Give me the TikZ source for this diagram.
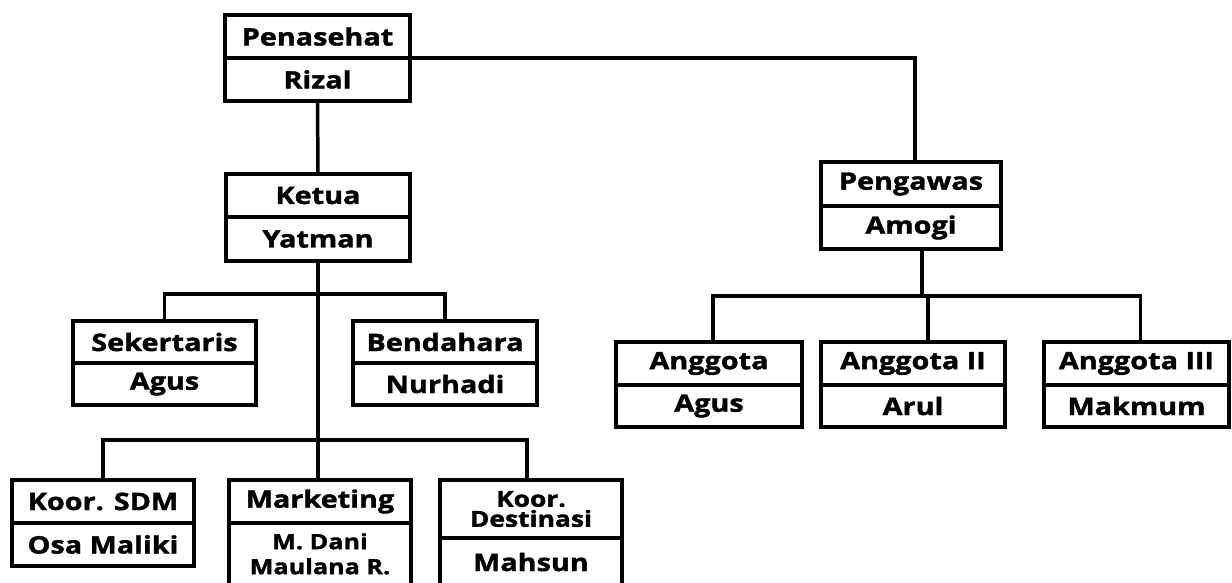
\documentclass[tikz,border=0pt]{standalone}
\usepackage{fontspec}
\setmainfont{Open Sans}[BoldFont={* Bold},BoldFeatures={FakeStretch=1.2,FakeBold=1.6}]
\begin{document}
\begin{tikzpicture}[x=1pt,y=-1pt,
  cell/.style={draw=black,line width=3.5pt,rectangle,inner sep=0pt,outer sep=0pt,
    align=center,font=\fontsize{24}{22}\selectfont\bfseries},
  txt/.style={inner sep=0pt,align=center,font=\fontsize{23}{25}\selectfont\bfseries},
  wire/.style={line width=3.5pt,line cap=rect}]
\useasboundingbox[fill=white] (0,0) rectangle (1232,582);
\clip (0,0) rectangle (1232,582);
% Penasehat
\node[cell,minimum width=185pt,minimum height=43pt] (pent) at (317.5,36.5) {Penasehat};
\node[cell,minimum width=185pt,minimum height=43pt] (penb) at (317.5,79.5) {Rizal};
% Ketua
\node[cell,minimum width=184pt,minimum height=43pt] (kett) at (318,195.5) {Ketua};
\node[cell,minimum width=184pt,minimum height=44pt] (ketb) at (318,239) {Yatman};
% Pengawas
\node[cell,minimum width=180pt,minimum height=44pt] (pgt) at (911,184) {Pengawas};
\node[cell,minimum width=180pt,minimum height=43pt] (pgb) at (911,227.5) {Amogi};
% Sekertaris
\node[cell,minimum width=183pt,minimum height=42pt] (sekt) at (164.5,342) {Sekertaris};
\node[cell,minimum width=183pt,minimum height=42pt] (sekb) at (164.5,384) {Agus};
% Bendahara
\node[cell,minimum width=184pt,minimum height=42pt] (bent) at (445,342) {Bendahara};
\node[cell,minimum width=184pt,minimum height=42pt] (benb) at (445,384) {Nurhadi};
% Anggota
\node[cell,minimum width=186pt,minimum height=43pt] (a1t) at (709,363.5) {Anggota};
\node[cell,minimum width=186pt,minimum height=42pt] (a1b) at (709,406) {Agus};
\node[cell,minimum width=184pt,minimum height=43pt] (a2t) at (913,363.5) {Anggota II};
\node[cell,minimum width=184pt,minimum height=42pt] (a2b) at (913,406) {Arul};
\node[cell,minimum width=185pt,minimum height=43pt] (a3t) at (1136.5,363.5) {Anggota III};
\node[cell,minimum width=185pt,minimum height=42pt] (a3b) at (1136.5,406) {Makmum};
% bottom row
\node[cell,minimum width=182pt,minimum height=43pt] (sdmt) at (103,501.5) {Koor. SDM};
\node[cell,minimum width=182pt,minimum height=43pt] (sdmb) at (103,544.5) {Osa Maliki};
\node[cell,minimum width=182pt,minimum height=43pt] (mkt) at (320,501.5) {Marketing};
\node[cell,minimum width=182pt,minimum height=77pt] (mkb) at (320,561.5) {};
\node[txt,font=\fontsize{21}{25}\selectfont\bfseries,anchor=north] (mkn) at (320,533) {M. Dani\\Maulana R.};
\node[cell,minimum width=182pt,minimum height=58pt,font=\fontsize{22}{20}\selectfont\bfseries] (dst) at (531,509) {Koor.\\Destinasi};
\node[cell,minimum width=182pt,minimum height=62pt] (dsb) at (531,569) {};
\node[txt,font=\fontsize{24}{22}\selectfont\bfseries] (dsn) at (531,562) {Mahsun};
% connectors
\coordinate (j1) at (318,294);
\coordinate (j2) at (318,440);
\coordinate (j3) at (922,296);
\draw[wire] (penb.north east) -| ([xshift=4pt]pgt.north);
\draw[wire] (penb.south) -- (kett.north);
\draw[wire] (ketb.south) -- (j1) -- (j2);
\draw[wire] (j1) -| (sekt.north);
\draw[wire] (j1) -| (bent.north);
\draw[wire] (j2) -| (sdmt.north);
\draw[wire] (j2) -- (mkt.north -| j2);
\draw[wire] (j2) -| ([xshift=-4pt]dst.north);
\draw[wire] ([xshift=11pt]pgb.south) -- (j3);
\draw[wire] (j3) -| ([xshift=4pt]a1t.north);
\draw[wire] (j3) -| ([xshift=15pt]a2t.north);
\draw[wire] (j3) -| ([xshift=4pt]a3t.north);
\end{tikzpicture}
\end{document}
